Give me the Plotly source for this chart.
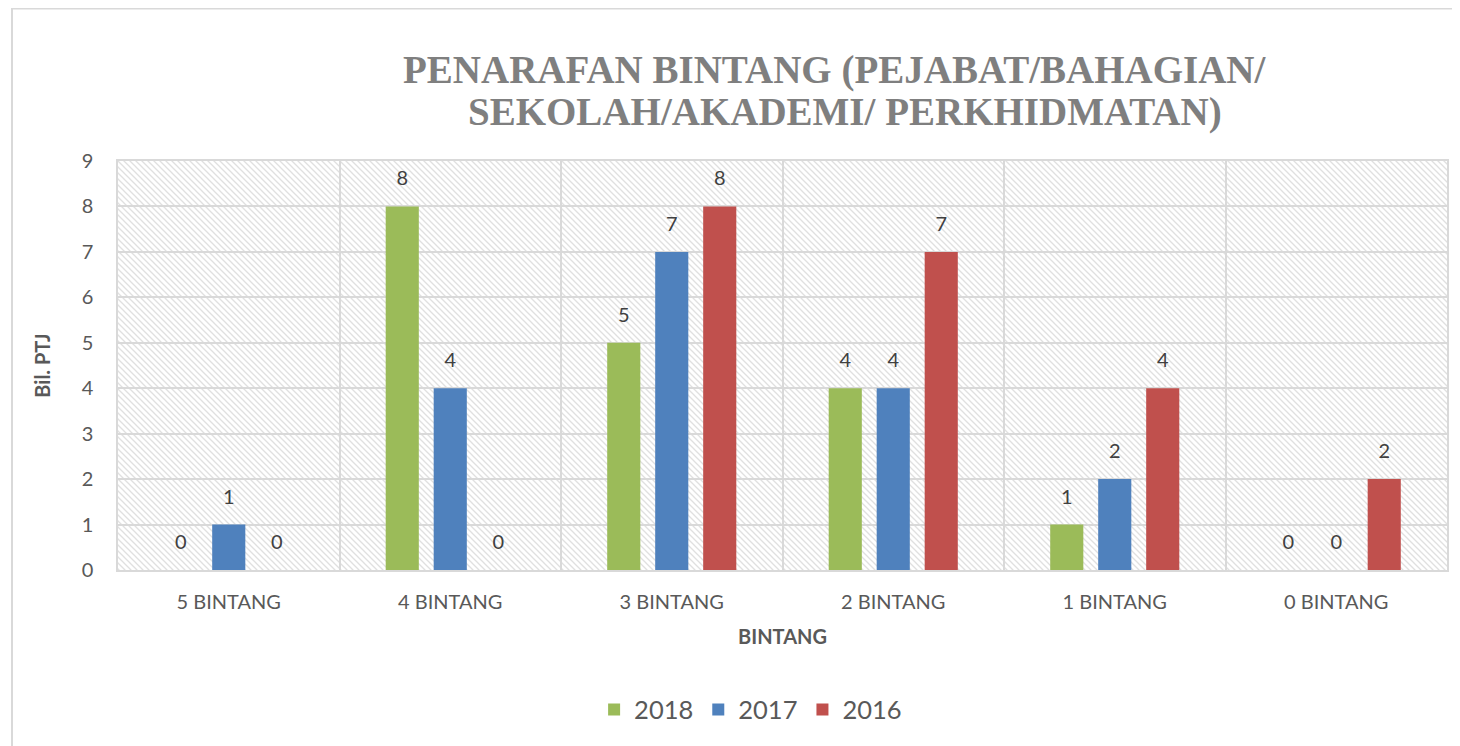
import base64
import plotly.graph_objects as go

categories = ["5 BINTANG", "4 BINTANG", "3 BINTANG", "2 BINTANG", "1 BINTANG", "0 BINTANG"]
series_names = ["2018", "2017", "2016"]
values_2018 = [0, 8, 5, 4, 1, 0]
values_2017 = [1, 4, 7, 4, 2, 0]
values_2016 = [0, 0, 8, 7, 4, 2]
colors = ["#9BBB59", "#4F81BD", "#C0504D"]
y_ticks = list(range(0, 10))
title_lines = ["PENARAFAN BINTANG (PEJABAT/BAHAGIAN/", "SEKOLAH/AKADEMI/ PERKHIDMATAN)"]

# page has an 8px body margin; figure sized to fit the 1460x746 window
W, H = 1452, 738
ML, MR, MT, MB = 110, 13, 153, 176
PW, PH = W - ML - MR, H - MT - MB

svg = f'''<svg xmlns="http://www.w3.org/2000/svg" width="{PW}" height="{PH}" viewBox="0 0 {PW} {PH}">
<defs><pattern id="p" width="6" height="6" patternUnits="userSpaceOnUse">
<rect width="6" height="6" fill="#ffffff"/>
<path d="M0,0 L6,6 M-1,5 L1,7 M5,-1 L7,1" stroke="#e0e0e0" stroke-width="1.3"/>
</pattern></defs>
<rect width="{PW}" height="{PH}" fill="url(#p)"/></svg>'''
svg_uri = "data:image/svg+xml;base64," + base64.b64encode(svg.encode()).decode()

SANS = "Lato, Open Sans, sans-serif"
LABEL_FONT = dict(family=SANS, size=20, color="#404040")
TITLE_FONT = dict(family="Liberation Serif, serif", size=39, color="#7f7f7f", weight="bold")

fig = go.Figure()
all_vals = [values_2018, values_2017, values_2016]
for name, vals, col in zip(series_names, all_vals, colors):
    fig.add_trace(go.Bar(
        x=categories, y=vals, name=name, offsetgroup=name,
        marker=dict(color=col, line=dict(width=0)),
    ))
for name, vals in zip(series_names, all_vals):
    fig.add_trace(go.Scatter(
        x=categories, y=vals, offsetgroup=name, mode="markers+text",
        text=[str(v) for v in vals], textposition="top center",
        marker=dict(size=24, opacity=0), textfont=LABEL_FONT,
        showlegend=False, hoverinfo="skip", cliponaxis=False,
    ))

fig.update_layout(
    width=W, height=H,
    margin=dict(l=ML, r=MR, t=MT, b=MB, autoexpand=False),
    paper_bgcolor="#ffffff", plot_bgcolor="rgba(0,0,0,0)",
    barmode="group", bargap=0.35, bargroupgap=0.31,
    scattermode="group", scattergap=0.35,
    legend=dict(orientation="h", x=0.476, xanchor="center", y=-0.342, yanchor="middle",
                font=dict(family=SANS, size=25.5, color="#595959"),
                itemwidth=30, traceorder="normal"),
    annotations=[
        dict(text=title_lines[0], xref="paper", yref="paper", x=0.5395, y=1.2225,
             xanchor="center", yanchor="middle", showarrow=False, font=TITLE_FONT),
        dict(text=title_lines[1], xref="paper", yref="paper", x=0.547, y=1.1198,
             xanchor="center", yanchor="middle", showarrow=False, font=TITLE_FONT),
    ],
    images=[dict(source=svg_uri, xref="x domain", yref="y domain", x=0, y=1,
                 sizex=1, sizey=1, sizing="stretch", xanchor="left", yanchor="top",
                 layer="below")],
    shapes=[dict(type="rect", xref="paper", yref="paper",
                 x0=(4 - ML) / PW, x1=(W + 10 - ML) / PW,
                 y0=-(H + 10 - (H - MB)) / PH, y1=(H - MB - 0.5) / PH,
                 line=dict(color="#d9d9d9", width=2), fillcolor="rgba(0,0,0,0)", layer="below")],
)
fig.update_xaxes(
    tickson="boundaries", showgrid=True, gridcolor="#d9d9d9", gridwidth=1.5,
    showline=True, linecolor="#d9d9d9", linewidth=1.5, mirror=True, ticks="",
    ticklabelstandoff=13,
    tickfont=dict(family=SANS, size=20, color="#595959"),
    title=dict(text="<b>BINTANG</b>", standoff=18,
               font=dict(family=SANS, size=20, color="#595959")),
)
fig.update_yaxes(
    range=[0, 9], tickvals=y_ticks, showgrid=True, gridcolor="#d9d9d9", gridwidth=1.5,
    showline=True, linecolor="#d9d9d9", linewidth=1.5, mirror=True, ticks="",
    zeroline=False, ticklabelstandoff=19,
    tickfont=dict(family=SANS, size=20, color="#595959"),
    title=dict(text="<b>Bil. PTJ</b>", standoff=26,
               font=dict(family=SANS, size=20, color="#595959")),
)
fig.write_html("out.html")
